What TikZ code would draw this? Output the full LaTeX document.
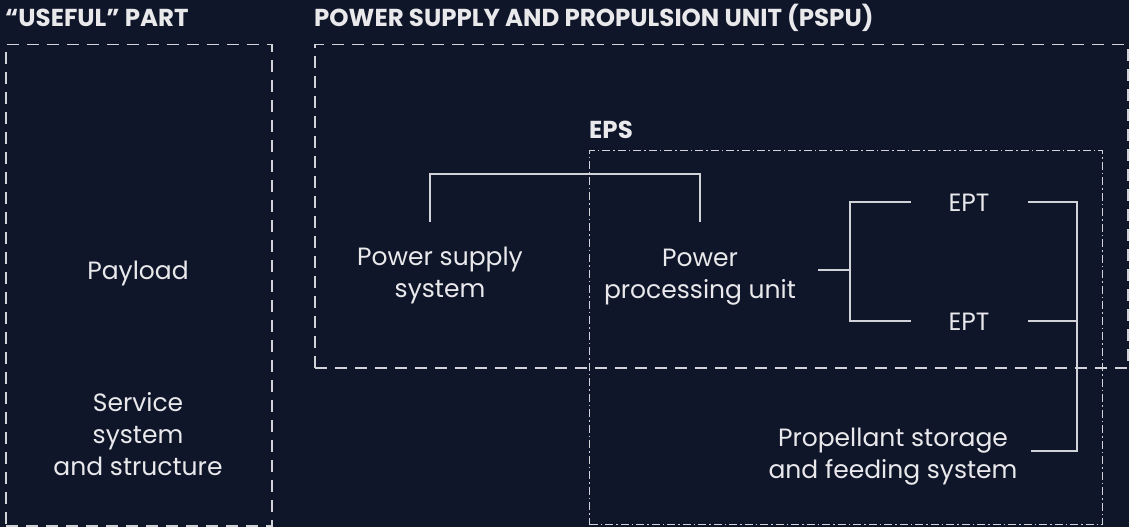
\documentclass[tikz,border=0pt]{standalone}
\usepackage{fontspec}
\setmainfont{Poppins}
\usetikzlibrary{calc}
\definecolor{bg}{HTML}{10162A}
\definecolor{fg}{HTML}{E9E9EC}
\definecolor{ln}{HTML}{D2D3D8}
\begin{document}
\begin{tikzpicture}[x=1pt,y=-1pt,
  dashbox/.style={draw=ln, line width=1.5pt, dash pattern=on 12pt off 8pt, inner sep=0pt, anchor=north west},
  dotbox/.style={draw=ln, line width=1.3pt, dash pattern=on 8pt off 3pt on 1.5pt off 3pt, inner sep=0pt, anchor=north west},
  title/.style={text=fg, font=\bfseries\fontsize{24.5}{28}\selectfont, inner sep=0pt, anchor=west},
  lbl/.style={text=fg, font=\fontsize{25}{32}\selectfont, align=center, inner sep=0pt},
  conn/.style={draw=ln, line width=1.5pt}]
\fill[bg] (0,0) rectangle (1129,527);
\useasboundingbox (0,0) rectangle (1129,527);
% boxes
\node[dashbox, minimum width=266pt, minimum height=481pt] (useful) at (5,44) {};
\node[dashbox, minimum width=813pt, minimum height=323pt] (pspu) at (314,44) {};
\node[dotbox, minimum width=513pt, minimum height=374pt] (eps) at (589,150) {};
% titles
\node[title] (t1) at (5,18) {“USEFUL” PART};
\node[title] (t2) at (314,18) {POWER SUPPLY AND PROPULSION UNIT (PSPU)};
\node[title] (t3) at (589,130) {EPS};
% labels
\node[lbl] (payload) at (138,273) {Payload};
\node[lbl] (service) at (138,434) {Service\\system\\and structure};
\node[lbl] (pss) at (440,275) {Power supply\\system};
\node[lbl] (ppu) at (700,277) {Power\\processing unit};
\node[lbl] (ept1) at (969,203) {EPT};
\node[lbl] (ept2) at (969,322) {EPT};
\node[lbl] (psf) at (893,457) {Propellant storage\\and feeding system};
% connectors
\coordinate (a1) at (430,222);
\coordinate (a2) at (700,222);
\draw[conn] (a1) -- (430,174) -| (a2);
\coordinate (b0) at (818,270);
\coordinate (bj) at (850,270);
\coordinate (b1) at (911,202);
\coordinate (b2) at (911,321);
\draw[conn] (b0) -- (bj);
\draw[conn] (b1) -| (bj) |- (b2);
\coordinate (c1) at (1028,202);
\coordinate (c2) at (1028,321);
\coordinate (c3) at (1031,451);
\draw[conn] (c1) -- (1077,202) |- (c3);
\draw[conn] (c2) -- (1077,321);
\end{tikzpicture}
\end{document}
